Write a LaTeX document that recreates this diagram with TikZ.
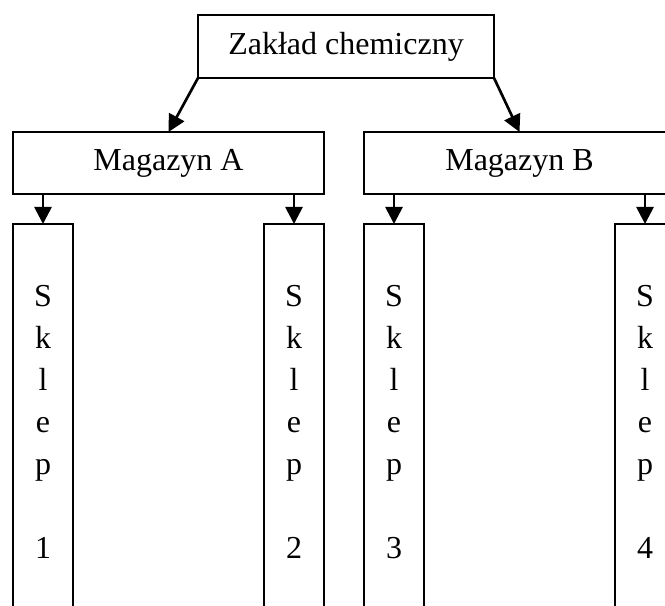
\documentclass[tikz,border=0pt]{standalone}
\usepackage{fontspec}
\setmainfont{Liberation Serif}
\usetikzlibrary{arrows.meta}

\begin{document}
\begin{tikzpicture}[x=0.375pt, y=-0.375pt,
  box/.style={draw, line width=0.75pt, rectangle, inner sep=0pt, outer sep=0pt,
              font=\fontsize{12}{14}\selectfont},
  shopbox/.style={box, minimum width=22.5pt, minimum height=150pt, anchor=north},
  shoptext/.style={anchor=north, align=center, inner sep=0pt,
                   font=\fontsize{12}{15.75}\selectfont},
  link/.style={line width=1pt, -{Triangle[length=6.4pt, width=6.4pt]}}]
  \useasboundingbox (0,0) rectangle (665,605);
  \clip (0,0) rectangle (665,605);

  % plant and warehouses
  \node[box, minimum width=111pt, minimum height=23.6pt] (plant) at (346,46.5) {Zakład chemiczny};
  \node[box, minimum width=116.6pt, minimum height=23.25pt] (magA) at (168.5,163) {Magazyn A};
  \node[box, minimum width=116.6pt, minimum height=23.25pt] (magB) at (519.5,163) {Magazyn B};

  % shops (tall boxes running past the lower edge)
  \node[shopbox] (s1) at (43,224) {};
  \node[shopbox] (s2) at (294,224) {};
  \node[shopbox] (s3) at (394,224) {};
  \node[shopbox] (s4) at (645,224) {};

  \node[shoptext] (t1) at (43,285) {S\\k\\l\\e\\p\\~\\1};
  \node[shoptext] (t2) at (294,285) {S\\k\\l\\e\\p\\~\\2};
  \node[shoptext] (t3) at (394,285) {S\\k\\l\\e\\p\\~\\3};
  \node[shoptext] (t4) at (645,285) {S\\k\\l\\e\\p\\~\\4};

  % connectors
  \draw[link] (plant.south west) -- (magA.north);
  \draw[link] (plant.south east) -- (magB.north);
  \draw[link] (s1.north |- magA.south) -- (s1.north);
  \draw[link] (s2.north |- magA.south) -- (s2.north);
  \draw[link] (s3.north |- magB.south) -- (s3.north);
  \draw[link] (s4.north |- magB.south) -- (s4.north);
\end{tikzpicture}
\end{document}
